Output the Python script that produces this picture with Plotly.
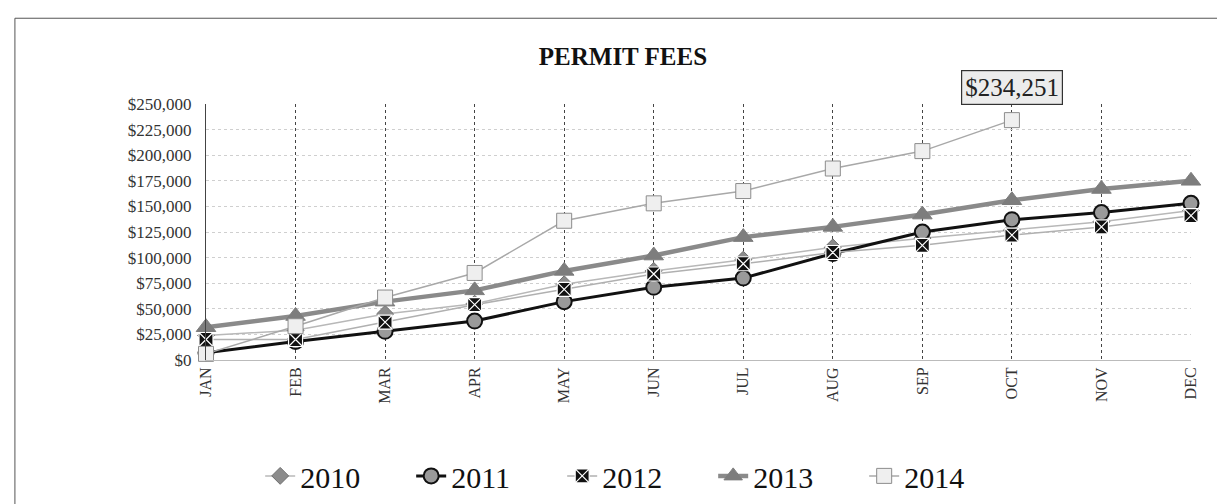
import plotly.graph_objects as go

months = ["JAN", "FEB", "MAR", "APR", "MAY", "JUN", "JUL", "AUG", "SEP", "OCT", "NOV", "DEC"]

fees_2010 = [24000, 29000, 45000, 55000, 74000, 87000, 98000, 110000, 119000, 127000, 135000, 146000]
fees_2011 = [7000, 18000, 28000, 38000, 57000, 71000, 80000, 104000, 125000, 137000, 144000, 153000]
fees_2012 = [20000, 20000, 37000, 54000, 69000, 84000, 94000, 105000, 112000, 122000, 130000, 141000]
fees_2013 = [32000, 43000, 57000, 68000, 87000, 102000, 120000, 130000, 142000, 156000, 167000, 175000]
fees_2014 = [6000, 33000, 61000, 85000, 136000, 153000, 165000, 187000, 204000, 234251, None, None]

y_ticks = list(range(0, 250001, 25000))
y_labels = ["${:,}".format(v) for v in y_ticks]

serif = "Liberation Serif"

fig = go.Figure()

fig.add_trace(go.Scatter(x=months, y=fees_2010, name="2010", mode="lines+markers",
                         line=dict(color="#b8b8b8", width=1.5),
                         marker=dict(symbol="diamond", size=13, color="#8c8c8c",
                                     line=dict(color="#6e6e6e", width=1)),
                         cliponaxis=False))
fig.add_trace(go.Scatter(x=months, y=fees_2011, name="2011", mode="lines+markers",
                         line=dict(color="#111111", width=3),
                         marker=dict(symbol="circle", size=15, color="#9a9a9a",
                                     line=dict(color="#111111", width=2)),
                         cliponaxis=False))
fig.add_trace(go.Scatter(x=months, y=fees_2012, name="2012", mode="lines+markers",
                         line=dict(color="#b0b0b0", width=1.5),
                         marker=dict(symbol="square-x", size=14, color="#111111",
                                     line=dict(color="#ffffff", width=1.2)),
                         cliponaxis=False))
fig.add_trace(go.Scatter(x=months, y=fees_2013, name="2013", mode="lines+markers",
                         line=dict(color="#8a8a8a", width=4.5),
                         marker=dict(symbol="triangle-up", size=17, color="#7d7d7d",
                                     line=dict(color="#7d7d7d", width=1)),
                         cliponaxis=False))
fig.add_trace(go.Scatter(x=months, y=fees_2014, name="2014", mode="lines+markers",
                         line=dict(color="#a8a8a8", width=1.5),
                         marker=dict(symbol="square", size=15, color="#efefef",
                                     line=dict(color="#8c8c8c", width=1)),
                         cliponaxis=False))

fig.add_annotation(x="OCT", y=fees_2014[9], text="$234,251", showarrow=False,
                   yshift=33, font=dict(family=serif, size=25, color="#222222"),
                   bgcolor="#ececec", bordercolor="#333333", borderwidth=1.2, borderpad=3)

fig.update_layout(
    width=1225, height=504,
    paper_bgcolor="white", plot_bgcolor="white",
    margin=dict(l=198, r=42, t=96, b=151),
    title=dict(text="<b>PERMIT FEES</b>", x=0.502, xanchor="center", y=0.905, yanchor="middle",
               font=dict(family=serif, size=25, color="#111111")),
    font=dict(family=serif, color="#222222"),
    xaxis=dict(showgrid=True, gridcolor="#444444", griddash="dot", gridwidth=1,
               tickangle=-90, tickfont=dict(family=serif, size=16, color="#333333"),
               range=[0, 11], showline=True, linecolor="#bbbbbb", ticks=""),
    yaxis=dict(range=[0, 250000], tickvals=y_ticks, ticktext=y_labels,
               showgrid=True, gridcolor="#cfcfcf", griddash="dot", gridwidth=1,
               tickfont=dict(family=serif, size=17, color="#333333"),
               ticklabelstandoff=10,
               showline=True, linecolor="#444444", zeroline=False, ticks=""),
    legend=dict(orientation="h", x=0.055, xanchor="left", y=-0.447, yanchor="middle",
                font=dict(family=serif, size=30, color="#111111"),
                entrywidth=106, tracegroupgap=0),
    shapes=[dict(type="rect", xref="paper", yref="paper",
                 x0=-0.194, x1=1.0386, y0=-0.61, y1=1.335,
                 line=dict(color="#555555", width=1))],
)

fig.write_html("out.html")
